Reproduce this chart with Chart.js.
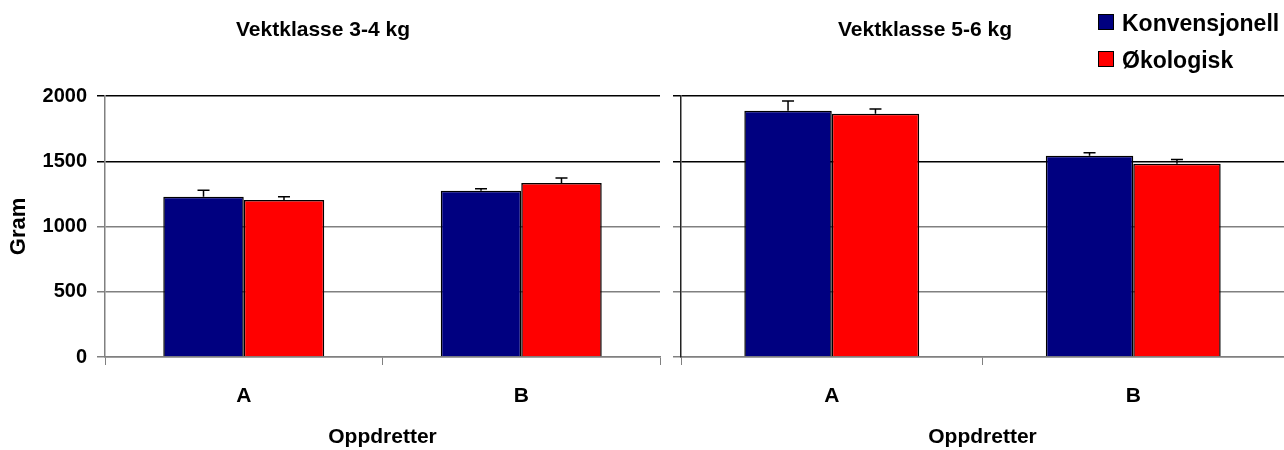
<!DOCTYPE html>
<html>
<head>
<meta charset="utf-8">
<script src="https://cdn.jsdelivr.net/npm/chart.js@4"></script>
<style>
  body { margin: 0; background: #fff; font-family: "Liberation Sans", Arial, sans-serif; }
  #wrap { position: relative; width: 1284px; height: 450px; overflow: hidden; }
  .box { position: absolute; top: 0; height: 450px; }
  .ttl { position: absolute; top: 17px; width: 300px; text-align: center; font-weight: bold; font-size: 21px; color: #000; }
  .leg { position: absolute; left: 1098px; font-weight: bold; font-size: 23px; line-height: 23px; color: #000; }
  .leg span { display: inline-block; width: 14px; height: 14px; border: 1px solid #000; margin-right: 8px; vertical-align: 1px; }
</style>
</head>
<body>
<div id="wrap">
  <div class="box" style="left:0;width:670px"><canvas id="left"></canvas></div>
  <div class="box" style="left:670px;width:614px"><canvas id="right"></canvas></div>
  <div class="ttl" style="left:173px">Vektklasse 3-4 kg</div>
  <div class="ttl" style="left:775px">Vektklasse 5-6 kg</div>
  <div class="leg" style="top:12px"><span style="background:#000080"></span>Konvensjonell</div>
  <div class="leg" style="top:49px"><span style="background:#ff0000"></span>Økologisk</div>
</div>
<script>
const categories = ["A", "B"];
const seriesNames = ["Konvensjonell", "Økologisk"];
const konv34 = [1228, 1274];
const oko34 = [1203, 1333];
const konv34Err = [50, 15];
const oko34Err = [25, 38];
const konv56 = [1887, 1542];
const oko56 = [1864, 1481];
const konv56Err = [75, 23];
const oko56Err = [36, 33];
const yTicks = [0, 500, 1000, 1500, 2000];

const FONT = "'Liberation Sans', Arial, sans-serif";

// error bars (only the upper half, like the original)
const errorBars = {
  id: "errorBars",
  afterDatasetsDraw(chart) {
    const ctx = chart.ctx;
    const y = chart.scales.y;
    chart.data.datasets.forEach((ds, di) => {
      const meta = chart.getDatasetMeta(di);
      meta.data.forEach((bar, i) => {
        const top = y.getPixelForValue(ds.data[i] + ds.err[i]);
        ctx.save();
        ctx.strokeStyle = "#000";
        ctx.lineWidth = 1.5;
        ctx.beginPath();
        ctx.moveTo(bar.x, bar.y);
        ctx.lineTo(bar.x, top);
        ctx.moveTo(bar.x - 6, top);
        ctx.lineTo(bar.x + 6, top);
        ctx.stroke();
        ctx.restore();
      });
    });
  }
};

function makeChart(id, blue, red, blueErr, redErr, isLeft) {
  return new Chart(document.getElementById(id), {
    type: "bar",
    data: {
      labels: categories,
      datasets: [
        { label: seriesNames[0], data: blue, err: blueErr, backgroundColor: "#000080", borderColor: "#000", borderWidth: 1.5 },
        { label: seriesNames[1], data: red, err: redErr, backgroundColor: "#ff0000", borderColor: "#000", borderWidth: 1.5 }
      ]
    },
    options: {
      responsive: true,
      maintainAspectRatio: false,
      animation: false,
      layout: { padding: { top: 96, right: isLeft ? 10 : 0, left: 0, bottom: 0 } },
      datasets: { bar: { categoryPercentage: 0.58, barPercentage: 1 } },
      plugins: { legend: { display: false }, tooltip: { enabled: false } },
      scales: {
        x: {
          grid: { offset: true, drawOnChartArea: false, drawTicks: true, tickLength: 8, color: "#808080" },
          border: { color: "#808080", width: 1.5 },
          ticks: { color: "#000", padding: 19, font: { family: FONT, size: 21, weight: "bold" } },
          title: { display: true, text: "Oppdretter", color: "#000", padding: { top: 0, bottom: 0 }, font: { family: FONT, size: 21, weight: "bold" } },
          afterFit(s) { s.height = 93; }
        },
        y: {
          min: 0, max: 2000,
          afterBuildTicks(s) { s.ticks = yTicks.map(v => ({ value: v })); },
          grid: {
            tickLength: 8,
            lineWidth: 1.5,
            color: c => (c.tick && c.tick.value > 1000 ? "#000" : "#808080")
          },
          border: { color: isLeft ? "#808080" : "#222", width: 1.5 },
          ticks: { display: isLeft, color: "#000", padding: 10, callback: v => String(v), font: { family: FONT, size: 20, weight: "bold" } },
          title: { display: isLeft, text: "Gram", color: "#000", padding: { top: 6, bottom: 0 }, font: { family: FONT, size: 22, weight: "bold" } },
          afterFit(s) { s.width = isLeft ? 105 : 11; }
        }
      }
    },
    plugins: [errorBars]
  });
}

makeChart("left", konv34, oko34, konv34Err, oko34Err, true);
makeChart("right", konv56, oko56, konv56Err, oko56Err, false);
</script>
</body>
</html>
